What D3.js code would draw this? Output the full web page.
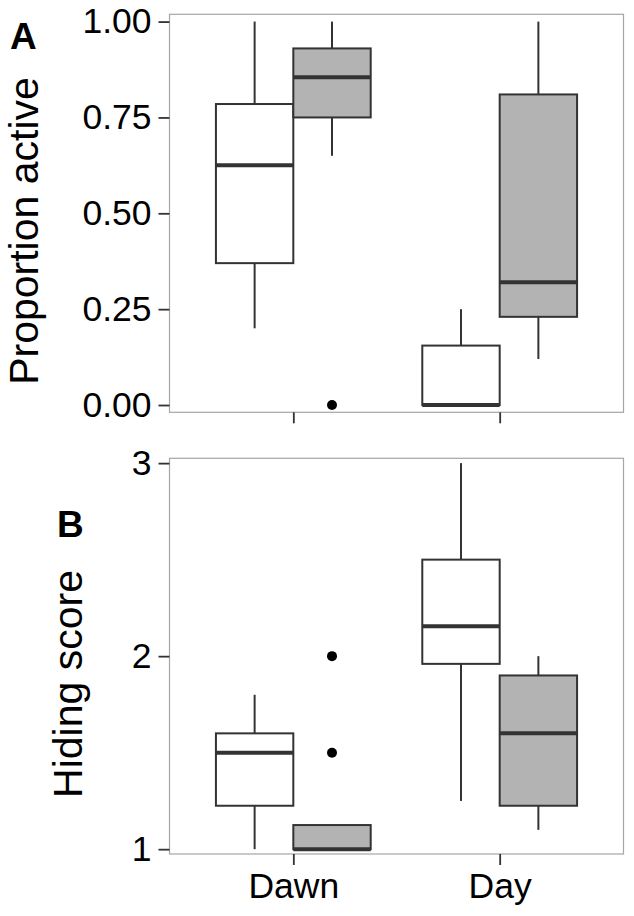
<!DOCTYPE html>
<html>
<head>
<meta charset="utf-8">
<script src="https://cdn.jsdelivr.net/npm/d3@7"></script>
<style>
  body { margin: 0; background: #fff; }
  svg { font-family: "Liberation Sans", Arial, Helvetica, sans-serif; }
</style>
</head>
<body>
<svg id="chart" width="634" height="916"></svg>
<script>
// categories
var times = ["Dawn", "Day"];
var fills = ["#ffffff", "#b3b3b3"]; // two groups per time

// box stats: [lower whisker, q1, median, q3, upper whisker], order Dawn-white, Dawn-grey, Day-white, Day-grey
var activeStats = [
    [0.20, 0.37, 0.625, 0.785, 1.00],
    [0.65, 0.75, 0.855, 0.93, 1.00],
    [0.00, 0.00, 0.00, 0.155, 0.25],
    [0.12, 0.23, 0.32, 0.81, 1.00]
];
var activeOutliers = [[], [0], [], []];

var hidingStats = [
    [1.00, 1.225, 1.50, 1.60, 1.80],
    [1.00, 1.00, 1.00, 1.125, 1.125],
    [1.25, 1.96, 2.155, 2.50, 3.00],
    [1.10, 1.225, 1.60, 1.90, 2.00]
];
var hidingOutliers = [[], [2, 1.5], [], []];

var activeTicks = [0, 0.25, 0.5, 0.75, 1];
var hidingTicks = [1, 2, 3];

var svg = d3.select("#chart");
var left = 169.5, right = 623.5;

var x = d3.scalePoint()
    .domain(times)
    .range([left, right])
    .padding(0.6);
var step = x.step();
var boxW = 0.375 * step;

function drawPanel(top, bottom, domain, ticks, fmt, stats, outliers, showLabels) {
    var y = d3.scaleLinear().domain(domain).range([bottom, top]);
    var g = svg.append("g");

    g.append("rect")
        .attr("x", left).attr("y", top)
        .attr("width", right - left).attr("height", bottom - top)
        .attr("fill", "#fff")
        .attr("stroke", "#a6a6a6")
        .attr("stroke-width", 1.2);

    var yAxis = g.append("g")
        .attr("transform", "translate(" + left + ",0)")
        .call(d3.axisLeft(y).tickValues(ticks).tickFormat(fmt).tickSize(11).tickPadding(7));
    yAxis.select(".domain").remove();
    yAxis.selectAll("line").attr("stroke", "#333").attr("stroke-width", 1.8);
    yAxis.selectAll("text").attr("font-size", 35.5).attr("fill", "#000")
        .attr("font-family", "'Liberation Sans', Arial, sans-serif");

    var xAxis = g.append("g")
        .attr("transform", "translate(0," + bottom + ")")
        .call(d3.axisBottom(x).tickSize(11).tickPadding(8)
            .tickFormat(showLabels ? null : ""));
    xAxis.select(".domain").remove();
    xAxis.selectAll("line").attr("stroke", "#333").attr("stroke-width", 1.8);
    xAxis.selectAll("text").attr("font-size", 35.5).attr("fill", "#000")
        .attr("font-family", "'Liberation Sans', Arial, sans-serif");

    var boxes = stats.map(function(s, i) {
        var t = times[Math.floor(i / 2)];
        var cx = x(t) + (i % 2 === 0 ? -0.5 : 0.5) * boxW;
        return { s: s, cx: cx, fill: fills[i % 2], out: outliers[i] };
    });

    var b = g.selectAll("g.box").data(boxes).enter().append("g").attr("class", "box");

    b.append("line")
        .attr("x1", function(d) { return d.cx; }).attr("x2", function(d) { return d.cx; })
        .attr("y1", function(d) { return y(d.s[3]); }).attr("y2", function(d) { return y(d.s[4]); })
        .attr("stroke", "#333").attr("stroke-width", 2);
    b.append("line")
        .attr("x1", function(d) { return d.cx; }).attr("x2", function(d) { return d.cx; })
        .attr("y1", function(d) { return y(d.s[1]); }).attr("y2", function(d) { return y(d.s[0]); })
        .attr("stroke", "#333").attr("stroke-width", 2);

    b.append("rect")
        .attr("x", function(d) { return d.cx - boxW / 2; })
        .attr("width", boxW)
        .attr("y", function(d) { return y(d.s[3]); })
        .attr("height", function(d) { return y(d.s[1]) - y(d.s[3]); })
        .attr("fill", function(d) { return d.fill; })
        .attr("stroke", "#333").attr("stroke-width", 2);

    b.append("line")
        .attr("x1", function(d) { return d.cx - boxW / 2; })
        .attr("x2", function(d) { return d.cx + boxW / 2; })
        .attr("y1", function(d) { return y(d.s[2]); }).attr("y2", function(d) { return y(d.s[2]); })
        .attr("stroke", "#333").attr("stroke-width", 4);

    b.selectAll("circle").data(function(d) { return d.out.map(function(v) { return { cx: d.cx, v: v }; }); })
        .enter().append("circle")
        .attr("cx", function(d) { return d.cx; })
        .attr("cy", function(d) { return y(d.v); })
        .attr("r", 5)
        .attr("fill", "#000");
}

drawPanel(14.3, 412.3, [-0.019, 1.019], activeTicks, d3.format(".2f"), activeStats, activeOutliers, false);
drawPanel(458.3, 854, [0.975, 3.025], hidingTicks, d3.format("d"), hidingStats, hidingOutliers, true);

// panel letters
svg.append("text").attr("x", 10).attr("y", 48.5)
    .attr("font-size", 37).attr("font-weight", "bold").text("A");
svg.append("text").attr("x", 57).attr("y", 537)
    .attr("font-size", 37).attr("font-weight", "bold").text("B");

// axis titles
svg.append("text")
    .attr("transform", "translate(38,231) rotate(-90)")
    .attr("text-anchor", "middle")
    .attr("font-size", 41).text("Proportion active");
svg.append("text")
    .attr("transform", "translate(82,684) rotate(-90)")
    .attr("text-anchor", "middle")
    .attr("font-size", 41).text("Hiding score");
</script>
</body>
</html>
